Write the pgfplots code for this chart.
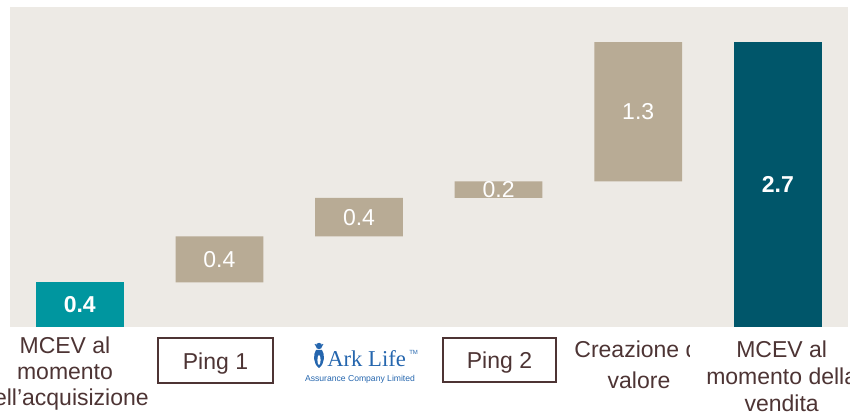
\documentclass[border=0pt]{standalone}
\usepackage{pgfplots}
\pgfplotsset{compat=1.18}
\usepackage{fontspec}
\setmainfont{Liberation Sans}
\newfontfamily\serifark{Liberation Serif}
\definecolor{bgc}{HTML}{EDEAE5}
\definecolor{beige}{HTML}{B8AB95}
\definecolor{tealA}{HTML}{00969F}
\definecolor{tealD}{HTML}{00566A}
\definecolor{txt}{HTML}{4D3434}
\definecolor{arkblue}{HTML}{2566AE}
\newcommand{\lf}{\fontsize{17.25pt}{19.9pt}\selectfont}
\begin{document}
\begin{tikzpicture}[x=0.75pt,y=0.75pt]
\useasboundingbox (0,0) rectangle (850,416);
\clip (0,0) rectangle (850,416);
\begin{axis}[
  at={(7.5pt,66.375pt)}, anchor=south west,
  width=628.2pt, height=240.4pt, scale only axis,
  xmin=-0.5, xmax=5.5, ymin=0, ymax=3.032,
  axis line style={draw=none}, ticks=none,
  axis background/.style={fill=bgc},
  ybar stacked, bar width=65.8pt, clip=false,
]
\addplot[draw=none, fill=none] coordinates {(0,0) (1,0.426) (2,0.861) (3,1.225) (4,1.383) (5,0)};
\addplot[draw=none, fill=tealA] coordinates {(0,0.426) (1,0) (2,0) (3,0) (4,0) (5,0)};
\addplot[draw=none, fill=beige] coordinates {(0,0) (1,0.435) (2,0.364) (3,0.158) (4,1.317) (5,0)};
\addplot[draw=none, fill=tealD] coordinates {(0,0) (1,0) (2,0) (3,0) (4,0) (5,2.7)};
\coordinate (v0) at (axis cs:0,0.213);
\coordinate (v1) at (axis cs:1,0.6435);
\coordinate (v2) at (axis cs:2,1.043);
\coordinate (v3) at (axis cs:3,1.304);
\coordinate (v4) at (axis cs:4,2.0415);
\coordinate (v5) at (axis cs:5,1.35);
\end{axis}
\begin{scope}[every node/.style={text=white, font=\lf}]
\node[font=\lf\bfseries] at (v0) {0.4};
\node at (v1) {0.4};
\node at (v2) {0.4};
\node at (v3) {0.2};
\node at (v4) {1.3};
\node[font=\lf\bfseries] at (v5) {2.7};
\end{scope}
% category labels
\begin{scope}[every node/.style={text=txt, font=\lf, inner sep=0pt}]
\node[anchor=base] at (65,62) {MCEV al};
\node[anchor=base] at (65,36) {momento};
\node[anchor=base] at (65,10.5) {dell’acquisizione};
\node[anchor=base] at (639,58) {Creazione di};
\node[anchor=base] at (639,27) {valore};
\end{scope}
\fill[white] (690,0) rectangle (850,86);
\begin{scope}[every node/.style={text=txt, font=\lf, inner sep=0pt}]
\node[anchor=base] at (781.7,58) {MCEV al};
\node[anchor=base] at (781.7,31) {momento della};
\node[anchor=base] at (781.7,4.5) {vendita};
\end{scope}
% Ping boxes
\draw[txt, line width=1.1pt] (158,33) rectangle (273,78);
\node[text=txt, font=\lf, anchor=base, inner sep=0pt] at (215.5,46.7) {Ping 1};
\draw[txt, line width=1.1pt] (443,34) rectangle (556,78);
\node[text=txt, font=\lf, anchor=base, inner sep=0pt] at (499.5,47) {Ping 2};
% Ark Life logo
\node[text=arkblue, font=\fontsize{17pt}{19pt}\serifark, anchor=base west, inner sep=0pt] at (327,49.3) {Ark Life};
\node[text=arkblue, font=\fontsize{4.5pt}{5pt}\selectfont, anchor=base west, inner sep=0pt] at (409,61) {TM};
\node[text=arkblue, font=\fontsize{6.45pt}{7pt}\selectfont, anchor=base, inner sep=0pt] at (360,34.3) {Assurance Company Limited};
\fill[arkblue] (319,48) .. controls (313,52) and (313,62) .. (316,66) -- (322,66) .. controls (325,62) and (325,52) .. (319,48) -- cycle;
\fill[arkblue] (319,70) circle (3.2);
\draw[arkblue, line width=0.6pt] (315,72) -- (316.5,69.5) (323,72) -- (321.5,69.5);
\fill[white] (319,56) ellipse (1.6 and 5);
\end{tikzpicture}
\end{document}
